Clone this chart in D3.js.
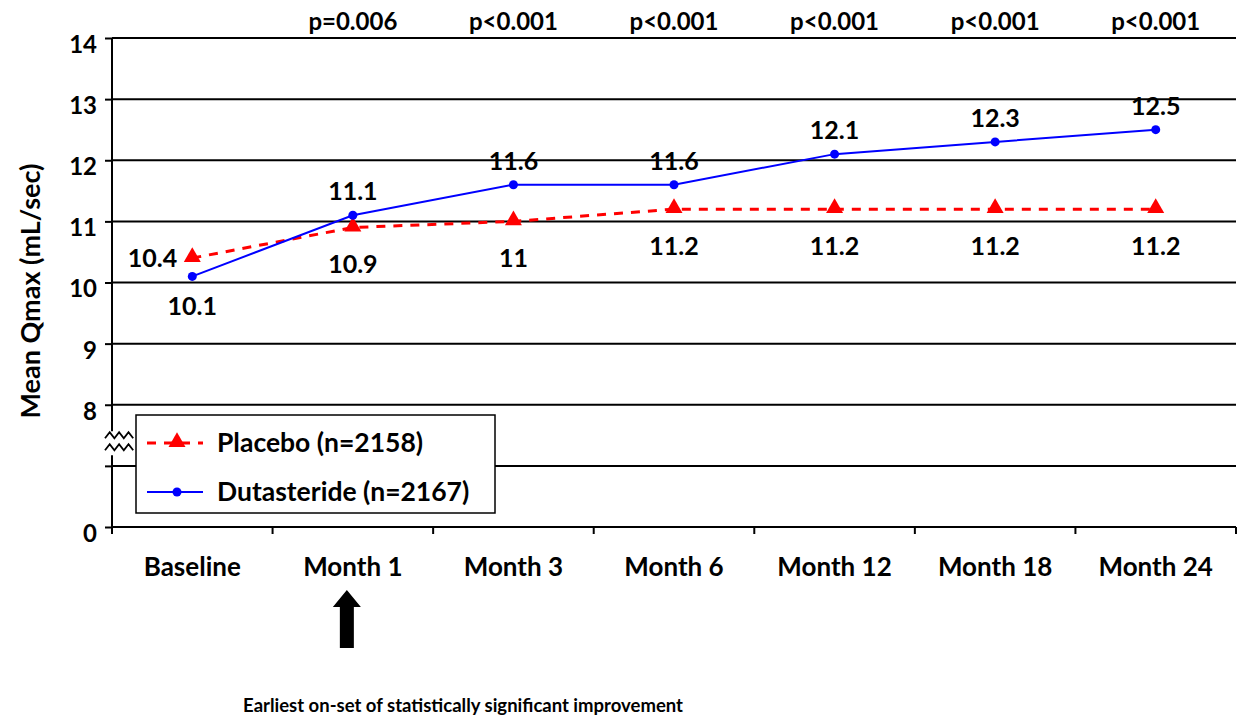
<!DOCTYPE html>
<html>
<head>
<meta charset="utf-8">
<script src="https://cdn.jsdelivr.net/npm/d3@7"></script>
<style>
  html, body { margin: 0; padding: 0; background: #fff; }
  svg { display: block; font-family: Lato, "Open Sans", sans-serif; font-weight: bold; }
</style>
</head>
<body>
<svg id="chart" width="1237" height="717"></svg>
<script>
const categories = ["Baseline", "Month 1", "Month 3", "Month 6", "Month 12", "Month 18", "Month 24"];
const placebo = [10.4, 10.9, 11, 11.2, 11.2, 11.2, 11.2];
const dutasteride = [10.1, 11.1, 11.6, 11.6, 12.1, 12.3, 12.5];
const pValues = ["", "p=0.006", "p<0.001", "p<0.001", "p<0.001", "p<0.001", "p<0.001"];
const yTickValues = [6, 7, 8, 9, 10, 11, 12, 13, 14];
const yTickLabels = ["0", "", "8", "9", "10", "11", "12", "13", "14"];
const placeboLabelPos = ["left", "below", "below", "below", "below", "below", "below"];
const dutLabelPos = ["belowNear", "above", "above", "above", "above", "above", "above"];
const seriesNames = ["Placebo (n=2158)", "Dutasteride (n=2167)"];
const yTitle = "Mean Qmax (mL/sec)";
const footnote = "Earliest on-set of statistically significant improvement";
const arrowCategory = "Month 1";

const svg = d3.select("#chart");
const mLeft = 112, mRight = 1236, mTop = 38, mBottom = 527;

const x = d3.scaleBand().domain(categories).range([mLeft, mRight]);
const y = d3.scaleLinear().domain([6, 14]).range([mBottom, mTop]);
const cx = c => x(c) + x.bandwidth() / 2;

// gridlines
svg.append("g").selectAll("line").data(yTickValues).join("line")
  .attr("x1", mLeft).attr("x2", mRight)
  .attr("y1", d => y(d)).attr("y2", d => y(d))
  .attr("stroke", "#000").attr("stroke-width", 2);

// y axis ticks and labels
const yAxis = svg.append("g").attr("transform", `translate(${mLeft},0)`)
  .call(d3.axisLeft(y).tickValues(yTickValues).tickFormat((d, i) => yTickLabels[i]).tickSize(7).tickPadding(8));
yAxis.select(".domain").remove();
yAxis.selectAll(".tick line").attr("stroke", "#000").attr("stroke-width", 2);
yAxis.selectAll(".tick text").attr("font-size", 24).attr("font-weight", "bold")
  .attr("font-family", "Lato, sans-serif").attr("fill", "#000").attr("dy", "0.6em");

// vertical axis line with break
const breakY = y(7.5);
svg.append("line").attr("x1", mLeft).attr("x2", mLeft).attr("y1", y(14)).attr("y2", breakY - 4)
  .attr("stroke", "#000").attr("stroke-width", 2);
svg.append("line").attr("x1", mLeft).attr("x2", mLeft).attr("y1", breakY + 20).attr("y2", mBottom + 7)
  .attr("stroke", "#000").attr("stroke-width", 2);
function zig(y0) {
  const pts = [];
  for (let i = 0; i <= 6; i++) pts.push([105 + i * 4.7, y0 + (i % 2 ? -3 : 3)]);
  return d3.line()(pts);
}
[breakY, breakY + 12].forEach(yy => {
  svg.append("path").attr("d", zig(yy)).attr("fill", "none").attr("stroke", "#000").attr("stroke-width", 1.8);
});

// bottom axis ticks at band boundaries
const bounds = categories.map(c => x(c)).concat([x.range()[1]]);
svg.append("g").selectAll("line").data(bounds).join("line")
  .attr("x1", d => d).attr("x2", d => d).attr("y1", mBottom).attr("y2", mBottom + 7)
  .attr("stroke", "#000").attr("stroke-width", 2);
svg.append("g").selectAll("text").data(categories).join("text")
  .attr("x", d => cx(d)).attr("y", 576).attr("text-anchor", "middle")
  .attr("font-size", 26).text(d => d);

// p values
svg.append("g").selectAll("text").data(categories.filter((c, i) => pValues[i]))
  .join("text")
  .attr("x", d => cx(d)).attr("y", 30).attr("text-anchor", "middle")
  .attr("font-size", 24).text(d => pValues[categories.indexOf(d)]);

// y title
svg.append("text").attr("transform", `translate(40,291) rotate(-90)`)
  .attr("text-anchor", "middle").attr("font-size", 27).text(yTitle);

// placebo line
svg.append("path").datum(placebo)
  .attr("d", d3.line().x((d, i) => cx(categories[i])).y(d => y(d)))
  .attr("fill", "none").attr("stroke", "#ff0000").attr("stroke-width", 3).attr("stroke-dasharray", "9,8");
// dutasteride line
svg.append("path").datum(dutasteride)
  .attr("d", d3.line().x((d, i) => cx(categories[i])).y(d => y(d)))
  .attr("fill", "none").attr("stroke", "#0000ff").attr("stroke-width", 2);

const tri = d3.symbol(d3.symbolTriangle).size(125);
svg.append("g").selectAll("path").data(placebo).join("path")
  .attr("d", tri).attr("transform", (d, i) => `translate(${cx(categories[i])},${y(d) - 1})`)
  .attr("fill", "#ff0000");
svg.append("g").selectAll("circle").data(dutasteride).join("circle")
  .attr("cx", (d, i) => cx(categories[i])).attr("cy", d => y(d)).attr("r", 4.5)
  .attr("fill", "#0000ff");

// data labels
function label(val, i, pos) {
  const px = cx(categories[i]), py = y(val);
  const t = svg.append("text").attr("font-size", 25).text(String(val));
  if (pos === "above") t.attr("x", px).attr("y", py - 15).attr("text-anchor", "middle");
  else if (pos === "below") t.attr("x", px).attr("y", py + 46).attr("text-anchor", "middle");
  else if (pos === "belowNear") t.attr("x", px).attr("y", py + 39).attr("text-anchor", "middle");
  else if (pos === "left") t.attr("x", px - 15).attr("y", py + 9).attr("text-anchor", "end");
}
placebo.forEach((v, i) => label(v, i, placeboLabelPos[i]));
dutasteride.forEach((v, i) => label(v, i, dutLabelPos[i]));

// legend
const lg = svg.append("g").attr("transform", "translate(136,415)");
lg.append("rect").attr("width", 359).attr("height", 98).attr("fill", "#fff").attr("stroke", "#000").attr("stroke-width", 1.5);
lg.append("line").attr("x1", 11).attr("x2", 67).attr("y1", 28).attr("y2", 28)
  .attr("stroke", "#ff0000").attr("stroke-width", 3).attr("stroke-dasharray", "9,8");
lg.append("path").attr("d", tri).attr("transform", "translate(41,27)").attr("fill", "#ff0000");
lg.append("text").attr("x", 81).attr("y", 37).attr("font-size", 26.5).text(seriesNames[0]);
lg.append("line").attr("x1", 11).attr("x2", 67).attr("y1", 77).attr("y2", 77)
  .attr("stroke", "#0000ff").attr("stroke-width", 2);
lg.append("circle").attr("cx", 41).attr("cy", 77).attr("r", 4.5).attr("fill", "#0000ff");
lg.append("text").attr("x", 81).attr("y", 86).attr("font-size", 26.5).text(seriesNames[1]);

// arrow
const ax = cx(arrowCategory) - 6;
svg.append("path")
  .attr("d", d3.line()([[ax, 590], [ax + 14, 607], [ax + 7, 607], [ax + 7, 648], [ax - 7, 648], [ax - 7, 607], [ax - 14, 607]]) + "Z")
  .attr("fill", "#000");

svg.append("text").attr("x", 463).attr("y", 712).attr("text-anchor", "middle")
  .attr("font-size", 18.5).text(footnote);
</script>
</body>
</html>
